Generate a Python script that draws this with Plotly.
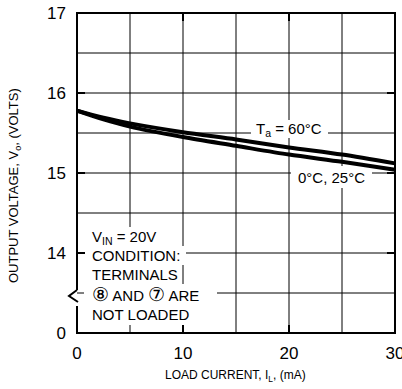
import plotly.graph_objects as go

# ---- data ----
load_current = [0, 2.5, 5, 10, 15, 20, 25, 30]          # mA
vout_60c = [15.78, 15.69, 15.62, 15.51, 15.42, 15.32, 15.23, 15.12]
vout_0_25c = [15.78, 15.67, 15.58, 15.45, 15.34, 15.23, 15.14, 15.04]

x_ticks = [0, 10, 20, 30]
x_tick_labels = ["0", "10", "20", "30"]
y_ticks = [13, 14, 15, 16, 17]          # 13 stands for the broken-axis "0"
y_tick_labels = ["0", "14", "15", "16", "17"]
x_grid = [5, 10, 15, 20, 25]
y_grid = [13.5, 14, 14.5, 15, 15.5, 16, 16.5]
x_mirror_ticks = [10, 20]
y_mirror_ticks = [14, 15, 16]

FONT = "Liberation Sans, Arial, sans-serif"

W, H = 402, 389
L, B = 77, 333          # left / bottom of the plot area (px)
PLOT_R, PLOT_T = 401, 5  # plot area extended a little past the frame
FR, FT = 395, 13         # frame right / top (px) = x 30, y 17
XS = (FR - L) / 30.0     # px per mA
YS = (B - FT) / 4.0      # px per volt on the broken axis


def px_x(p):
    return (p - L) / XS


def px_y(p):
    return 17 - (p - FT) / YS


def pap_x(p):
    return (p - L) / (PLOT_R - L)


def pap_y(p):
    return (B - p) / (B - PLOT_T)


def pt(a, b):
    return f"{pap_x(a):.5f},{pap_y(b):.5f}"


fig = go.Figure()

shapes = []
for gx in x_grid:
    shapes.append(dict(type="line", xref="x", yref="y", layer="below",
                       x0=gx, x1=gx, y0=13, y1=17, line=dict(color="black", width=1)))
for gy in y_grid:
    shapes.append(dict(type="line", xref="x", yref="y", layer="below",
                       x0=0, x1=30, y0=gy, y1=gy, line=dict(color="black", width=1)))
boxes_px = [
    (84, 162, 227, 246),
    (84, 186, 246, 265),
    (84, 182, 265, 284),
    (84, 217, 284, 304),
    (84, 190, 304, 325),
    (251, 328, 120, 138),
    (291, 372, 166, 188),
]
for x0, x1, y0, y1 in boxes_px:
    shapes.append(dict(type="rect", xref="x", yref="y", layer="below",
                       x0=px_x(x0), x1=px_x(x1), y0=px_y(y0), y1=px_y(y1),
                       fillcolor="white", line=dict(width=0)))

# frame (with the gap for the axis break) as one path
frame_pts = [(L, 290), (L, FT), (FR, FT), (FR, B), (L, B), (L, 306)]
frame_path = "M " + " L ".join(pt(a, b) for a, b in frame_pts)
shapes.append(dict(type="path", xref="paper", yref="paper", layer="above",
                   path=frame_path, line=dict(color="black", width=2)))

# mirrored ticks on top and right
tick_path = ""
for tx in x_mirror_ticks:
    xp = L + tx * XS
    tick_path += f"M {pt(xp, FT)} L {pt(xp, FT + 8)} "
for ty in y_mirror_ticks:
    yp = FT + (17 - ty) * YS
    tick_path += f"M {pt(FR, yp)} L {pt(FR - 8, yp)} "
shapes.append(dict(type="path", xref="paper", yref="paper", layer="above",
                   path=tick_path.strip(), line=dict(color="black", width=2)))

# axis break zigzag
zz = [(77, 290), (69, 296), (78, 302)]
shapes.append(dict(type="path", xref="paper", yref="paper", layer="above",
                   path="M " + " L ".join(pt(a, b) for a, b in zz),
                   line=dict(color="black", width=2)))

fig.add_trace(go.Scatter(x=load_current, y=vout_60c, mode="lines",
                         line=dict(color="black", width=4, shape="spline", smoothing=0.8),
                         hoverinfo="skip", showlegend=False))
fig.add_trace(go.Scatter(x=load_current, y=vout_0_25c, mode="lines",
                         line=dict(color="black", width=4, shape="spline", smoothing=0.8),
                         hoverinfo="skip", showlegend=False))

CIRC = '<span style="font-size:19px">{}</span>'
annotations = []
left_lines = [
    ("V<sub>IN</sub> = 20V", 237),
    ("CONDITION:", 255),
    ("TERMINALS", 274),
    (CIRC.format("⑧") + " AND " + CIRC.format("⑦") + " ARE", 294),
    ("NOT LOADED", 314),
]
for txt, yp in left_lines:
    annotations.append(dict(x=px_x(90), y=px_y(yp), xref="x", yref="y", text=txt,
                            showarrow=False, xanchor="left", yanchor="middle",
                            font=dict(family=FONT, size=15, color="black")))
annotations.append(dict(x=px_x(289), y=px_y(129), xref="x", yref="y",
                        text="T<sub>a</sub> = 60°C", showarrow=False,
                        xanchor="center", yanchor="middle",
                        font=dict(family=FONT, size=15, color="black")))
annotations.append(dict(x=px_x(331), y=px_y(177), xref="x", yref="y",
                        text="0°C, 25°C", showarrow=False,
                        xanchor="center", yanchor="middle",
                        font=dict(family=FONT, size=15, color="black")))
annotations.append(dict(x=pap_x(15), y=pap_y(186), xref="paper", yref="paper",
                        text="OUTPUT VOLTAGE, V<sub>o</sub>, (VOLTS)", textangle=-90,
                        showarrow=False, xanchor="center", yanchor="middle",
                        font=dict(family=FONT, size=13, color="black")))
annotations.append(dict(x=pap_x(235), y=pap_y(376), xref="paper", yref="paper",
                        text="LOAD CURRENT, I<sub>L</sub>, (mA)",
                        showarrow=False, xanchor="center", yanchor="middle",
                        font=dict(family=FONT, size=12, color="black")))

axis_common = dict(showgrid=False, automargin=False, zeroline=False, showline=False,
                   ticks="inside", ticklen=8, tickwidth=2, tickcolor="black",
                   ticklabeloverflow="allow")

fig.update_layout(
    width=W, height=H,
    margin=dict(l=L, r=W - PLOT_R, t=PLOT_T, b=H - B, autoexpand=False),
    paper_bgcolor="white", plot_bgcolor="white",
    shapes=shapes, annotations=annotations,
    font=dict(family=FONT, color="black"),
    xaxis=dict(range=[0, (PLOT_R - L) / XS], tickvals=x_ticks, ticktext=x_tick_labels,
               ticklabelstandoff=8, tickfont=dict(family=FONT, size=17, color="black"),
               **axis_common),
    yaxis=dict(range=[13, 17 + (FT - PLOT_T) / YS], tickvals=y_ticks, ticktext=y_tick_labels,
               ticklabelstandoff=10, tickfont=dict(family=FONT, size=17, color="black"),
               **axis_common),
)

fig.write_html("out.html", config={"displayModeBar": False, "staticPlot": True},
               post_script="document.body.style.margin='0';document.body.style.overflow='hidden';")
